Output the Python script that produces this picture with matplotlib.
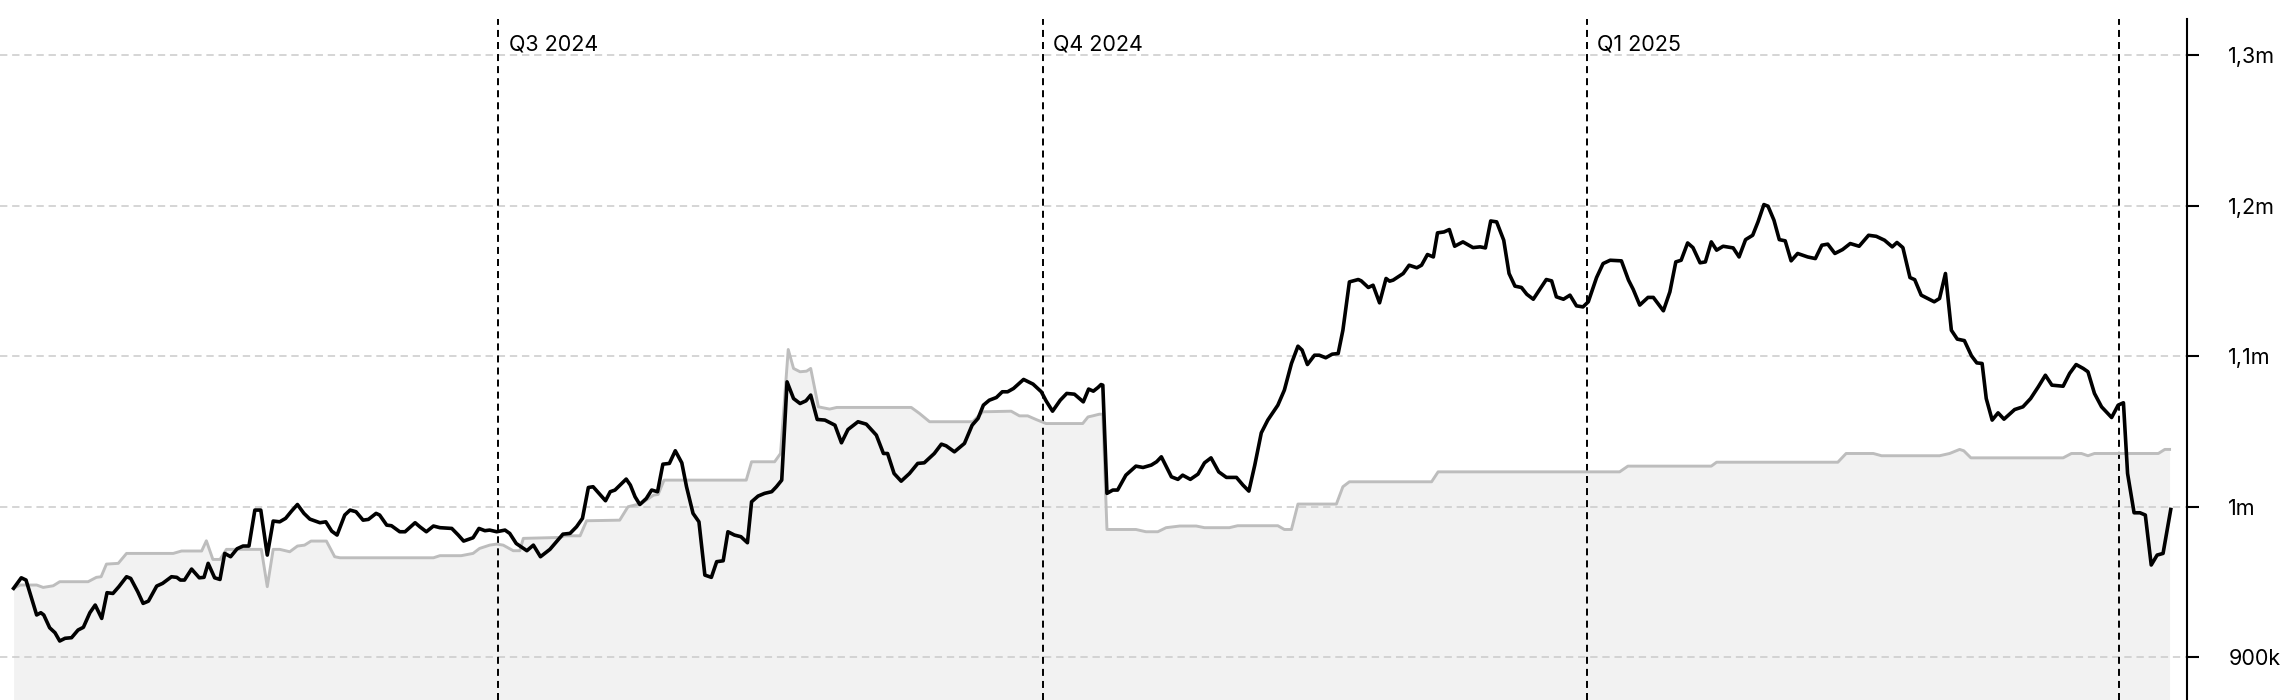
import matplotlib.pyplot as plt
import pandas as pd

# values in thousands, x as days relative to 1 July 2024
black_days = [
    -82.0, -80.7, -79.9, -78.1, -77.4, -76.9, -75.9, -75.0, -74.2, -73.3, -72.2, -71.1, -70.2,
    -69.1, -68.2, -67.1, -66.2, -65.2, -64.2, -62.9, -62.2, -61.0, -60.1, -59.2, -57.8, -56.8,
    -55.3, -54.4, -53.8, -53.1, -51.9, -50.6, -49.8, -49.1, -48.0, -47.1, -46.3, -45.3, -44.2,
    -43.2, -42.2, -41.2, -40.2, -39.1, -38.1, -37.0, -36.0, -35.0, -34.0, -32.9, -31.9, -30.2,
    -29.2, -28.2, -27.3, -26.0, -25.1, -24.1, -22.9, -22.0, -20.7, -20.1, -18.9, -18.1, -16.7,
    -15.8, -14.1, -13.3, -12.2, -11.0, -9.9, -7.9, -6.8, -5.9, -4.3, -3.3, -2.3, -1.5, -0.3,
    1.1, 1.9, 3.0, 4.8, 5.9, 7.1, 8.7, 10.9, 12.1, 13.2, 14.2, 15.2, 16.0, 17.0, 18.1, 18.9,
    19.7, 21.6, 22.3, 23.1, 23.9, 25.0, 25.9, 26.9, 27.8, 28.9, 29.9, 31.0, 31.8, 32.9, 33.9,
    34.9, 36.0, 36.9, 38.0, 38.8, 39.9, 41.0, 42.1, 42.8, 43.9, 45.0, 46.2, 47.0, 47.9, 48.8,
    49.9, 51.0, 52.0, 52.8, 53.9, 55.2, 56.9, 58.0, 59.1, 60.8, 62.2, 63.9, 65.1, 65.8, 66.9,
    68.1, 69.5, 70.9, 72.0, 73.7, 74.9, 75.7, 77.1, 78.8, 80.1, 81.1, 82.0, 83.0, 84.2, 85.2,
    86.1, 87.1, 88.8, 90.4, 91.8, 92.6, 93.7, 95.0, 96.1, 97.4, 98.9, 99.8, 100.6, 101.4,
    101.9, 102.2, 102.9, 103.9, 104.7, 106.1, 107.8, 109.0, 110.4, 111.3, 112.1, 113.8,
    114.9, 115.7, 117.0, 118.3, 119.4, 120.5, 121.8, 123.1, 124.8, 125.9, 126.9, 127.9,
    129.0, 130.1, 131.8, 132.9, 134.1, 135.2, 135.9, 136.8, 138.0, 138.8, 139.9, 141.0,
    142.0, 142.8, 143.9, 145.4, 145.9, 147.1, 147.9, 149.0, 150.1, 150.7, 151.3, 153.0,
    154.0, 155.3, 156.1, 157.1, 158.1, 158.8, 159.9, 160.8, 161.7, 163.1, 164.8, 166.0,
    166.9, 167.8, 168.8, 170.0, 170.9, 171.9, 173.0, 173.9, 175.0, 176.1, 177.2, 178.1,
    178.9, 180.1, 181.2, 182.3, 183.4, 184.3, 185.7, 186.8, 188.0, 189.9, 191.1, 191.9,
    193.0, 194.4, 195.3, 197.0, 198.1, 199.1, 200.0, 201.1, 202.0, 203.2, 204.1, 205.1,
    206.0, 207.1, 208.8, 209.8, 210.9, 212.1, 213.0, 214.0, 214.7, 215.7, 216.6, 217.6,
    218.6, 219.7, 221.4, 222.7, 223.8, 224.8, 226.0, 227.3, 228.6, 230.1, 231.7, 233.0,
    234.4, 235.7, 236.5, 237.5, 238.7, 239.5, 240.6, 241.7, 242.8, 243.7, 244.7, 245.7,
    246.7, 247.9, 249.1, 250.0, 250.9, 251.6, 252.6, 253.6, 254.6, 256.4, 257.8, 259.1,
    260.4, 261.6, 262.7, 264.6, 265.7, 266.8, 268.0, 268.8, 269.9, 271.1, 272.8, 273.9,
    274.8, 275.5, 276.6, 277.6, 278.5, 279.5, 280.5, 281.5, 282.8,
]
black_vals = [
    945.8, 952.8, 951.3, 928.1, 929.6, 928.1, 919.6, 916.3, 910.8, 912.6, 913.0, 918.1, 919.9,
    929.6, 934.7, 925.8, 942.9, 942.4, 946.9, 953.5, 952.4, 943.5, 935.8, 937.3, 947.3, 949.1,
    953.5, 953.1, 951.3, 951.3, 958.6, 952.8, 953.1, 962.4, 952.8, 951.7, 969.0, 966.8, 972.1,
    973.9, 973.9, 997.8, 997.8, 967.9, 990.5, 990.0, 992.3, 997.1, 1001.5, 995.6, 991.8, 989.4,
    990.0, 983.8, 981.2, 994.5, 997.8, 996.7, 991.1, 991.6, 995.6, 994.5, 987.8, 987.4, 983.4,
    983.4, 989.4, 986.7, 983.4, 987.2, 986.1, 985.6, 981.2, 977.2, 979.4, 985.6, 984.1, 984.5,
    983.4, 984.5, 982.3, 975.6, 970.8, 974.5, 966.8, 971.7, 981.8, 982.3, 986.7, 992.3,
    1012.8, 1013.3, 1008.9, 1004.0, 1010.0, 1011.1, 1018.4, 1014.4, 1006.6, 1001.5, 1005.5,
    1011.1, 1010.0, 1028.3, 1028.8, 1037.2, 1029.2, 1013.3, 995.6, 990.0, 954.6, 953.1, 963.5,
    964.1, 983.4, 981.2, 980.1, 976.1, 1003.3, 1007.1, 1008.9, 1010.0, 1013.3, 1017.7, 1083.0,
    1071.9, 1068.6, 1070.4, 1074.2, 1058.0, 1057.6, 1054.2, 1042.5, 1051.3, 1056.5, 1054.9,
    1047.6, 1035.4, 1035.4, 1022.1, 1017.0, 1022.1, 1028.8, 1029.2, 1035.4, 1041.6, 1040.5,
    1036.5, 1042.1, 1054.2, 1058.7, 1067.5, 1070.8, 1072.6, 1076.4, 1076.4, 1078.6, 1084.6,
    1081.5, 1076.4, 1070.4, 1063.5, 1070.8, 1075.3, 1074.8, 1069.7, 1078.2, 1076.8, 1079.3,
    1081.2, 1080.8, 1008.9, 1011.1, 1011.1, 1021.0, 1027.0, 1026.1, 1027.7, 1029.9, 1033.2,
    1019.9, 1018.2, 1021.0, 1018.2, 1021.7, 1029.2, 1032.5, 1023.2, 1019.5, 1019.5, 1014.4,
    1010.4, 1027.7, 1049.1, 1057.6, 1067.5, 1077.5, 1095.2, 1106.7, 1104.1, 1094.5, 1100.7,
    1100.7, 1099.0, 1101.4, 1101.8, 1117.3, 1149.4, 1151.0, 1150.1, 1145.7, 1147.2, 1135.5,
    1151.7, 1149.9, 1150.6, 1155.0, 1160.5, 1158.8, 1160.5, 1167.6, 1166.0, 1182.0, 1182.6,
    1184.2, 1173.1, 1176.0, 1172.2, 1172.7, 1172.0, 1189.9, 1189.3, 1177.1, 1155.0, 1146.6,
    1145.7, 1141.2, 1137.9, 1144.4, 1151.0, 1150.1, 1139.5, 1137.9, 1140.6, 1133.5, 1132.8,
    1136.2, 1152.3, 1161.6, 1163.8, 1163.4, 1150.6, 1144.4, 1134.0, 1139.1, 1139.1, 1130.2,
    1142.8, 1162.7, 1163.8, 1175.3, 1172.2, 1162.1, 1162.7, 1176.0, 1170.5, 1173.1, 1172.0,
    1166.0, 1177.5, 1180.4, 1189.3, 1200.8, 1199.7, 1190.4, 1177.5, 1176.7, 1163.4, 1168.3,
    1166.0, 1164.9, 1173.8, 1174.5, 1168.3, 1170.9, 1174.9, 1173.1, 1180.4, 1179.7, 1177.1,
    1172.7, 1175.6, 1172.2, 1152.3, 1150.9, 1140.6, 1138.4, 1136.2, 1138.4, 1155.0, 1117.3,
    1111.4, 1110.4, 1100.3, 1095.6, 1095.2, 1071.9, 1057.6, 1062.4, 1058.2, 1064.6, 1066.4,
    1071.9, 1079.7, 1087.4, 1080.8, 1080.1, 1088.6, 1094.5, 1091.9, 1089.7, 1075.3, 1066.4,
    1059.3, 1067.5, 1069.1, 1022.1, 996.0, 996.0, 994.5, 961.3, 967.9, 969.0, 998.2,
]

grey_days = [
    -82.0, -80.9, -78.1, -77.0, -75.3, -74.2, -69.4, -68.0, -67.2, -66.3, -64.3, -62.9, -55.0,
    -53.6, -50.2, -49.4, -48.3, -47.1, -46.0, -40.1, -39.1, -38.1, -37.0, -35.3, -34.0, -32.8,
    -31.7, -29.1, -27.7, -26.8, -11.0, -9.9, -6.3, -4.3, -3.2, -1.5, -0.3, 0.8, 2.5, 3.6, 4.2,
    10.4, 11.2, 13.8, 14.9, 20.5, 21.9, 24.2, 26.2, 27.0, 28.0, 41.9, 42.8, 46.7, 47.7, 49.0,
    49.9, 51.0, 52.1, 52.8, 54.1, 56.0, 57.2, 69.8, 71.2, 72.9, 80.2, 81.9, 86.7, 88.1, 89.5,
    90.9, 92.6, 98.8, 99.7, 100.5, 101.6, 102.2, 102.9, 107.8, 109.5, 111.5, 112.9, 115.2,
    118.0, 119.4, 123.6, 125.0, 131.8, 132.9, 134.1, 135.2, 141.7, 142.8, 143.9, 157.8, 158.9,
    189.6, 191.0, 205.1, 206.0, 226.5, 227.9, 232.5, 233.9, 243.7, 245.4, 247.1, 247.8, 249.0,
    264.6, 266.0, 267.7, 268.8, 269.9, 280.7, 281.8, 282.6,
]
grey_vals = [
    945.8, 948.0, 948.0, 946.4, 947.5, 950.2, 950.2, 953.1, 953.5, 961.9, 962.4, 969.0, 969.0,
    970.6, 970.6, 977.4, 965.0, 965.0, 971.7, 971.7, 946.9, 971.7, 971.7, 970.1, 973.9, 974.5,
    977.2, 977.2, 966.8, 966.1, 966.1, 967.5, 967.5, 969.0, 972.3, 974.5, 975.2, 974.5, 970.8,
    970.8, 979.0, 979.6, 980.7, 980.7, 990.7, 991.1, 1000.0, 1002.2, 1007.7, 1008.2, 1017.7,
    1017.7, 1029.9, 1029.9, 1035.4, 1104.5, 1091.9, 1089.7, 1090.1, 1091.9, 1066.4, 1064.9,
    1066.0, 1066.0, 1062.0, 1056.5, 1056.5, 1063.1, 1063.5, 1060.4, 1060.4, 1058.0, 1055.3,
    1055.3, 1059.7, 1060.4, 1061.5, 1061.5, 984.9, 984.9, 983.4, 983.4, 986.1, 987.2, 987.2,
    986.1, 986.1, 987.4, 987.4, 984.9, 984.9, 1001.8, 1001.8, 1013.3, 1016.6, 1016.6, 1023.2,
    1023.2, 1027.0, 1027.0, 1029.6, 1029.6, 1035.4, 1035.4, 1033.9, 1033.9, 1035.4, 1038.1,
    1037.2, 1032.5, 1032.5, 1035.4, 1035.4, 1033.9, 1035.4, 1035.4, 1038.1, 1038.1,
]

quarter_starts = ['2024-07-01', '2024-10-01', '2025-01-01', '2025-04-01']
quarter_labels = ['Q3 2024', 'Q4 2024', 'Q1 2025', '']
y_ticks = [900000, 1000000, 1100000, 1200000, 1300000]
y_tick_labels = ['900k', '1m', '1,1m', '1,2m', '1,3m']

base = pd.Timestamp('2024-07-01')
black_x = base + pd.to_timedelta(black_days, unit='D')
grey_x = base + pd.to_timedelta(grey_days, unit='D')
black_y = [v * 1000 for v in black_vals]
grey_y = [v * 1000 for v in grey_vals]

plt.rcParams['font.family'] = ['Inter', 'DejaVu Sans']

fig = plt.figure(figsize=(22.82, 7), dpi=100)
ax = fig.add_axes([0, 0, 2187.3 / 2282, 681 / 700])

ymin, ymax = 871600, 1324100
ax.fill_between(grey_x, grey_y, ymin - 50000, color='#f2f2f2', lw=0, zorder=0.2)
ax.plot(grey_x, grey_y, color='#bdbdbd', lw=2.1, zorder=2, solid_joinstyle='round')
ax.plot(black_x, black_y, color='#000000', lw=2.6, zorder=3, solid_joinstyle='round')

for q, lab in zip(quarter_starts, quarter_labels):
    ax.axvline(pd.Timestamp(q), color='#000000', lw=1.4, dashes=(3.6, 2.6), zorder=1.5)
    if lab:
        ax.annotate(lab, xy=(pd.Timestamp(q), 1303500), xytext=(7.7, 0),
                    textcoords='offset points', va='baseline', ha='left',
                    fontsize=15.5, color='#000000')

ax.set_xlim(base + pd.Timedelta(days=-84.3), base + pd.Timedelta(days=285.6))
ax.set_ylim(ymin, ymax)

ax.set_yticks(y_ticks, y_tick_labels)
ax.yaxis.tick_right()
ax.tick_params(axis='y', length=8.6, width=1.5, pad=21, labelsize=15.5, colors='#000000')
ax.tick_params(axis='x', bottom=False, labelbottom=False)
ax.set_axisbelow(True)
ax.grid(axis='y', color='#cccccc', lw=1.15, dashes=(4.6, 3.0))
ax.grid(axis='x', visible=False)

for side in ['left', 'top', 'bottom']:
    ax.spines[side].set_visible(False)
ax.spines['right'].set_linewidth(1.5)

fig.savefig('out.png', dpi=100)
